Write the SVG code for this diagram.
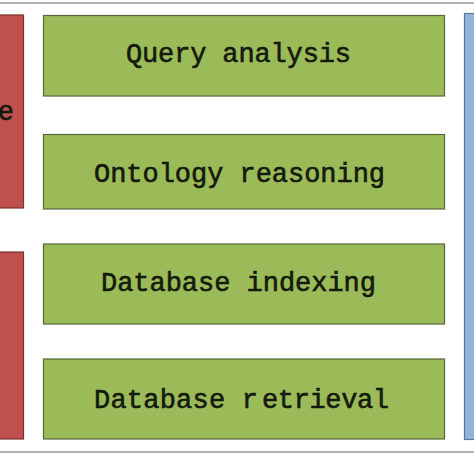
<svg xmlns="http://www.w3.org/2000/svg" width="474" height="474" viewBox="0 0 474 474">
  <style>
    .frame { stroke: #9a9a9a; stroke-width: 1.5; fill: none; }
    .red { fill: #c0504d; stroke: #7a3331; stroke-width: 1.2; }
    .green { fill: #9bbb59; stroke: #55663a; stroke-width: 1.2; }
    .blue { fill: #95b3d7; stroke: #5b77a0; stroke-width: 1.2; }
    .lbl { font-family: "Liberation Mono", "DejaVu Sans Mono", monospace; font-size: 27px; fill: #141a0c; stroke: #141a0c; stroke-width: 0.6; }
  </style>
  <rect width="474" height="474" fill="#ffffff"/>
  <g id="frame">
    <line class="frame" x1="0" y1="3" x2="474" y2="3"/>
    <line class="frame" x1="0" y1="452" x2="474" y2="452"/>
  </g>
  <g id="left-top">
    <rect class="red" x="-10" y="15" width="33.5" height="193"/>
    <text class="lbl" x="14" y="120" text-anchor="end">e</text>
  </g>
  <g id="left-bottom">
    <rect class="red" x="-10" y="252" width="33.5" height="187"/>
  </g>
  <g id="right">
    <rect class="blue" x="464.5" y="13.5" width="20" height="426"/>
  </g>
  <g id="query-analysis">
    <rect class="green" x="43.5" y="15.5" width="401" height="80.5"/>
    <text class="lbl" x="126" y="62" textLength="225" lengthAdjust="spacing">Query analysis</text>
  </g>
  <g id="ontology-reasoning">
    <rect class="green" x="43.5" y="134.5" width="401" height="74.5"/>
    <text class="lbl" x="94" y="182" textLength="291" lengthAdjust="spacing">Ontology reasoning</text>
  </g>
  <g id="database-indexing">
    <rect class="green" x="43.5" y="244" width="401" height="80"/>
    <text class="lbl" x="101" y="291" textLength="275" lengthAdjust="spacing">Database indexing</text>
  </g>
  <g id="database-retrieval">
    <rect class="green" x="43.5" y="359" width="401" height="80"/>
    <text class="lbl" x="94" y="408"><tspan textLength="164" lengthAdjust="spacing">Database r</tspan> <tspan x="262" textLength="127" lengthAdjust="spacing">etrieval</tspan></text>
  </g>
  <g id="connectors"></g>
</svg>
